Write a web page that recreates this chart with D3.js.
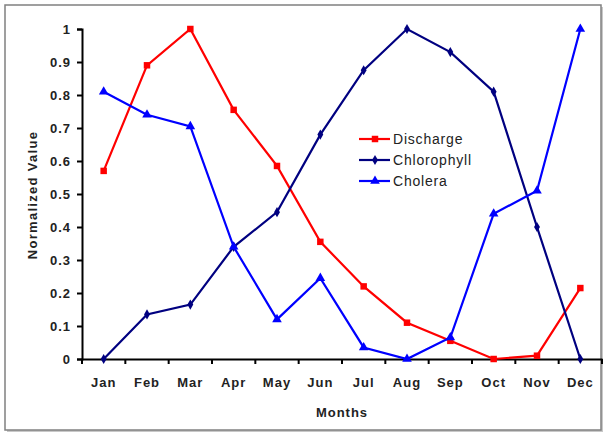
<!DOCTYPE html>
<html>
<head>
<meta charset="utf-8">
<script src="https://cdn.jsdelivr.net/npm/d3@7"></script>
<style>
  body { margin: 0; background: #fff; }
  svg { font-family: "Liberation Sans", Arial, sans-serif; }
</style>
</head>
<body>
<div id="chart"></div>
<script>
// data
const months = ["Jan", "Feb", "Mar", "Apr", "May", "Jun", "Jul", "Aug", "Sep", "Oct", "Nov", "Dec"];
const discharge = [0.57, 0.89, 1.0, 0.755, 0.585, 0.355, 0.22, 0.11, 0.055, 0.0, 0.01, 0.215];
const chlorophyll = [0.0, 0.135, 0.165, 0.34, 0.445, 0.68, 0.875, 1.0, 0.93, 0.81, 0.40, 0.0];
const cholera = [0.81, 0.74, 0.705, 0.34, 0.12, 0.245, 0.035, 0.0, 0.065, 0.44, 0.51, 1.0];
const yTicks = [0, 0.1, 0.2, 0.3, 0.4, 0.5, 0.6, 0.7, 0.8, 0.9, 1];

const series = [
  { name: "Discharge", values: discharge, color: "#ff0000", shape: d3.symbolSquare, size: 42 },
  { name: "Chlorophyll", values: chlorophyll, color: "#000080", shape: d3.symbolDiamond, size: 30 },
  { name: "Cholera", values: cholera, color: "#0000ff", shape: d3.symbolTriangle, size: 40 }
];

const width = 606;
const height = 434;
const margin = { top: 29, right: 4, bottom: 75, left: 82 };

const svg = d3.select("#chart")
  .append("svg")
  .attr("width", width)
  .attr("height", height);

// outer frame with a little shadow
svg.append("rect")
  .attr("x", 7).attr("y", 7)
  .attr("width", 596).attr("height", 425)
  .attr("fill", "#c8c8c8");
svg.append("rect")
  .attr("x", 5).attr("y", 5)
  .attr("width", 596).attr("height", 425)
  .attr("fill", "#fff")
  .attr("stroke", "#808080")
  .attr("stroke-width", 1.5);

const x = d3.scaleBand()
  .domain(months)
  .range([margin.left, width - margin.right]);

const y = d3.scaleLinear()
  .domain([0, 1])
  .range([height - margin.bottom, margin.top]);

const labelStyle = sel => sel
  .attr("fill", "#222")
  .style("font-size", "13px")
  .style("font-weight", "bold")
  .style("letter-spacing", "1px");

// y axis
const gy = svg.append("g")
  .attr("transform", `translate(${margin.left},0)`)
  .call(d3.axisLeft(y).tickValues(yTicks).tickFormat(d3.format("")).tickSize(5).tickPadding(6));
gy.select(".domain").attr("stroke", "#000").attr("stroke-width", 2);
gy.selectAll(".tick line").attr("stroke", "#000").attr("stroke-width", 2);
gy.selectAll("text").call(labelStyle);

// x axis
const gx = svg.append("g")
  .attr("transform", `translate(0,${y(0)})`)
  .call(d3.axisBottom(x).tickSize(0).tickPadding(19));
gx.select(".domain").attr("stroke", "#000").attr("stroke-width", 2);
gx.selectAll("text").call(labelStyle);

// category boundary ticks
svg.append("g")
  .selectAll("line")
  .data(months.concat(["end"]))
  .join("line")
  .attr("x1", (d, i) => margin.left + i * x.step())
  .attr("x2", (d, i) => margin.left + i * x.step())
  .attr("y1", y(0))
  .attr("y2", y(0) + 5)
  .attr("stroke", "#000")
  .attr("stroke-width", 2);

// axis titles
svg.append("text")
  .attr("transform", "rotate(-90)")
  .attr("x", -195)
  .attr("y", 37)
  .attr("text-anchor", "middle")
  .call(labelStyle)
  .style("letter-spacing", "1.3px")
  .text("Normalized Value");

svg.append("text")
  .attr("x", 342)
  .attr("y", 417)
  .attr("text-anchor", "middle")
  .call(labelStyle)
  .text("Months");

const cx = (d, i) => x(months[i]) + x.bandwidth() / 2;

const line = d3.line()
  .x(cx)
  .y(d => y(d));

series.forEach(s => {
  svg.append("path")
    .datum(s.values)
    .attr("fill", "none")
    .attr("stroke", s.color)
    .attr("stroke-width", 2.2)
    .attr("d", line);

  svg.append("g")
    .selectAll("path")
    .data(s.values)
    .join("path")
    .attr("transform", (d, i) => `translate(${cx(d, i)},${y(d)})`)
    .attr("d", d3.symbol().type(s.shape).size(s.size))
    .attr("fill", s.color);
});

// legend
const legend = svg.append("g")
  .attr("transform", "translate(359,139)");

const rows = legend.selectAll("g")
  .data(series)
  .join("g")
  .attr("transform", (d, i) => `translate(0,${i * 21})`);

rows.append("line")
  .attr("x1", 0).attr("x2", 31)
  .attr("stroke", d => d.color)
  .attr("stroke-width", 2.2);

rows.append("path")
  .attr("transform", "translate(16,0)")
  .attr("d", d => d3.symbol().type(d.shape).size(d.size)())
  .attr("fill", d => d.color);

rows.append("text")
  .attr("x", 34)
  .attr("dy", "0.35em")
  .attr("fill", "#222")
  .style("font-size", "14px")
  .style("letter-spacing", "0.8px")
  .text(d => d.name);
</script>
</body>
</html>
